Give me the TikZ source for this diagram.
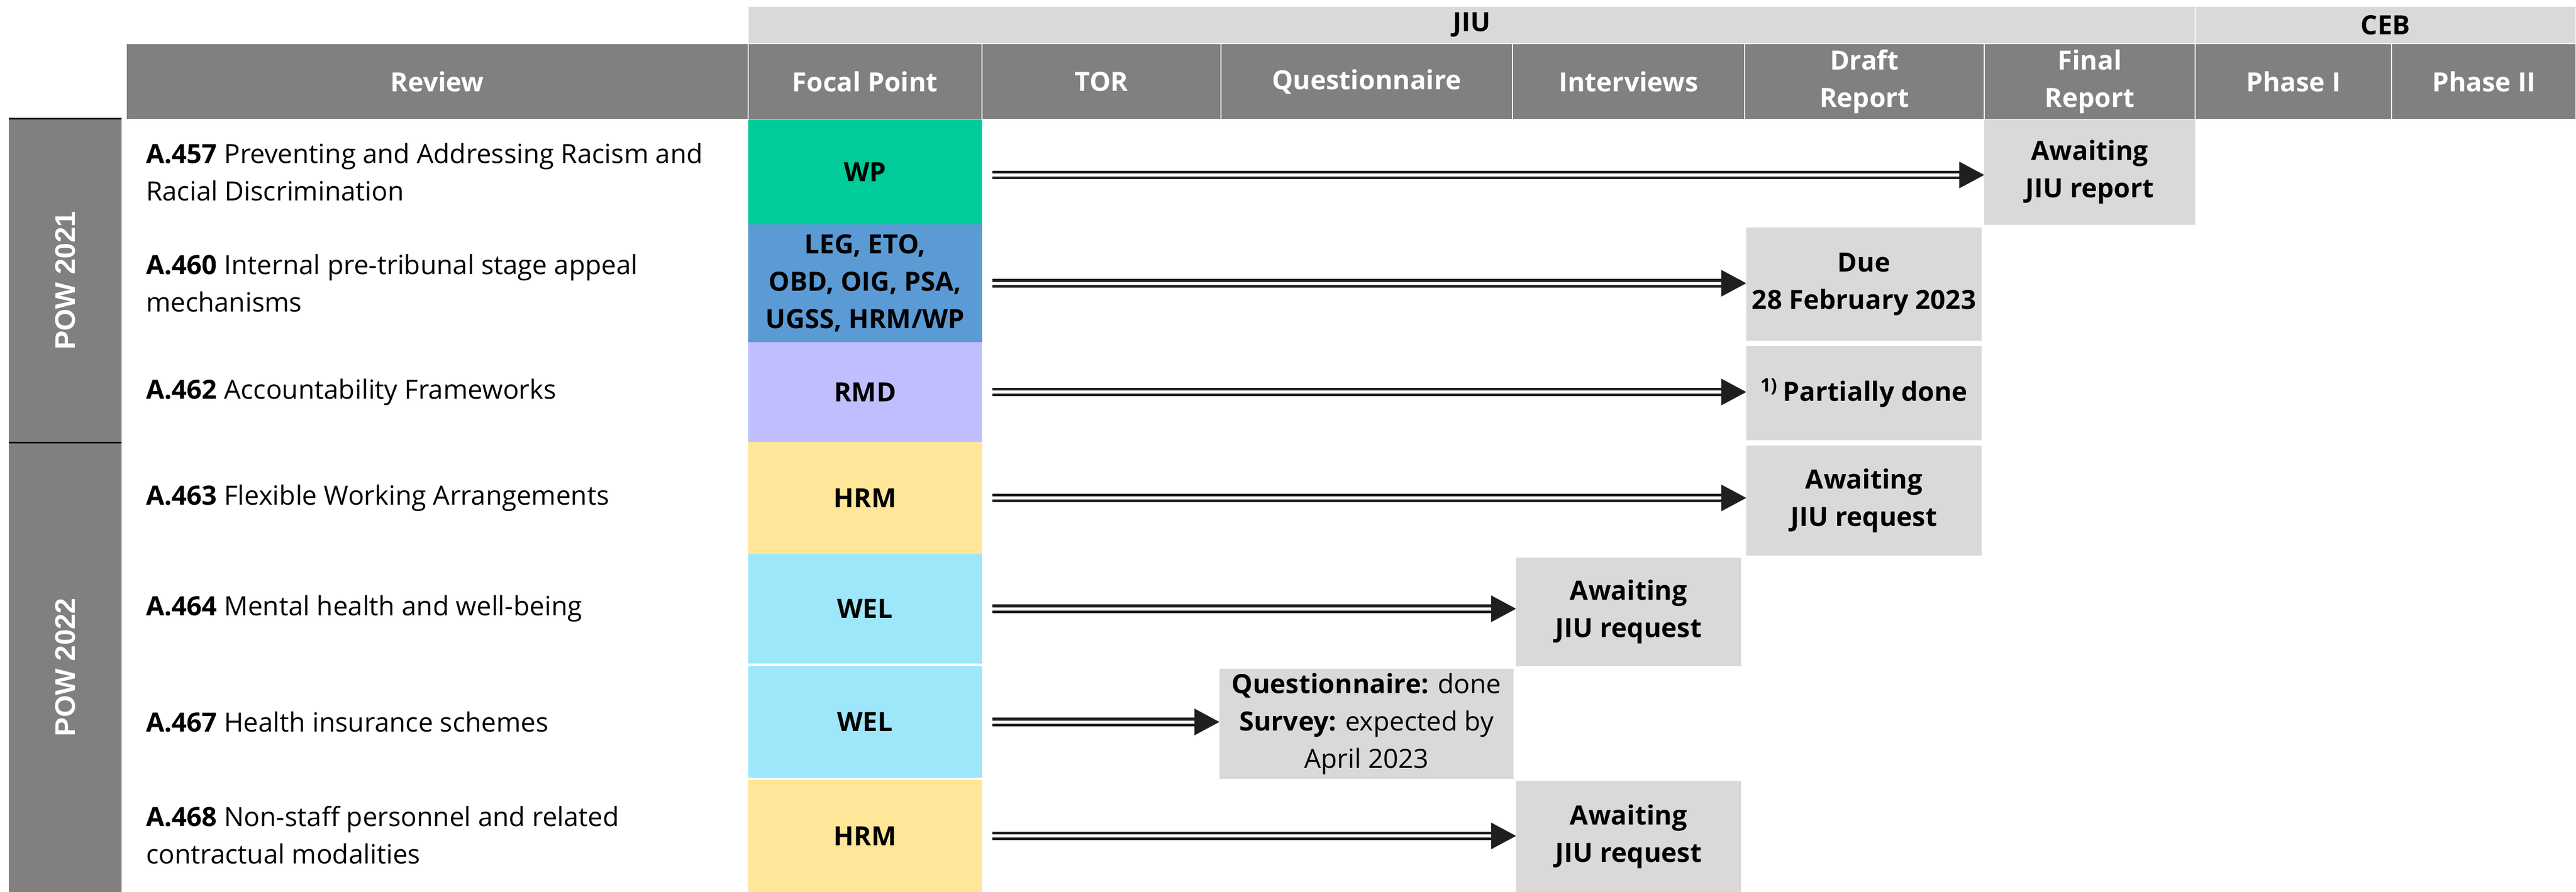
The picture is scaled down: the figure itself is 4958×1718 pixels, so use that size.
\documentclass[tikz,border=0pt]{standalone}
\usepackage{fontspec}
\setmainfont{Open Sans}
\newfontfamily\powfont{Liberation Sans}
\usetikzlibrary{arrows.meta}
\definecolor{hdr}{HTML}{808080}
\definecolor{band}{HTML}{D9D9D9}
\definecolor{cgreen}{HTML}{00CC99}
\definecolor{cblue}{HTML}{5B9BD5}
\definecolor{cpurple}{HTML}{BFBFFF}
\definecolor{cyellow}{HTML}{FFE699}
\definecolor{ccyan}{HTML}{9EE6FA}
\definecolor{statgray}{HTML}{D9D9D9}
\newcommand\fs{\fontsize{10.2pt}{14.4pt}\selectfont}
\newcommand\mkcell[7]{\node[#6,minimum width={(#4-#2)*0.2pt},minimum height={(#5-#3)*0.2pt}] (#1) at ({(#2+#4)/2},{(#3+#5)/2}) {#7};}
\begin{document}
\begin{tikzpicture}[x=0.2pt,y=-0.2pt,
  every node/.style={inner sep=0pt,outer sep=0pt},
  hdrcell/.style={fill=hdr,draw=white,line width=0.4pt,text=white,font=\fs\bfseries,align=center},
  bandcell/.style={fill=band,draw=white,line width=0.4pt,font=\fs\bfseries,align=center},
  powcell/.style={fill=hdr},
  powtext/.style={text=white,rotate=90,font=\powfont\fontsize{10.9pt}{13pt}\selectfont\bfseries},
  focal/.style={font=\fs\bfseries,align=center},
  stat/.style={fill=statgray,font=\fs\bfseries,align=center},
  review/.style={anchor=west,align=left,font=\fs},
  flow/.style={draw=black!88,line width=1.05pt,double=white,double distance=1.2pt,
    -{Triangle[length=9.6pt,width=10pt]},shorten <=4pt},
  sepline/.style={line width=0.6pt,draw=black}]
\useasboundingbox (0,0) rectangle (4958,1718);
% top band
\mkcell{jiu}{1440}{12}{4225}{84}{bandcell}{JIU}
\mkcell{ceb}{4225}{12}{4958}{84}{bandcell}{CEB}
% header row
\mkcell{hReview}{243}{84}{1440}{230}{hdrcell}{Review}
\mkcell{hFocal}{1440}{84}{1890}{230}{hdrcell}{Focal Point}
\mkcell{hTOR}{1890}{84}{2350}{230}{hdrcell}{TOR}
\mkcell{hQuest}{2350}{84}{2911}{230}{hdrcell}{Questionnaire}
\mkcell{hInt}{2911}{84}{3358}{230}{hdrcell}{Interviews}
\mkcell{hDraft}{3358}{84}{3819}{230}{hdrcell}{Draft\\Report}
\mkcell{hFinal}{3819}{84}{4225}{230}{hdrcell}{Final\\Report}
\mkcell{hPh1}{4225}{84}{4603}{230}{hdrcell}{Phase I}
\mkcell{hPh2}{4603}{84}{4958}{230}{hdrcell}{Phase II}
% POW bars
\mkcell{pow21}{17}{229}{234}{852}{powcell}{}
\mkcell{pow22}{17}{852}{234}{1718}{powcell}{}
\draw[sepline] (pow21.north west) -- (pow21.north east);
\draw[sepline] (pow22.north west) -- (pow22.north east);
\node[powtext] (pow21t) at (pow21) {POW 2021};
\node[powtext] (pow22t) at (pow22) {POW 2022};
% review texts
\node[review] (r1) at (281,331) {\textbf{A.457} Preventing and Addressing Racism and\\Racial Discrimination};
\node[review] (r2) at (281,545) {\textbf{A.460} Internal pre-tribunal stage appeal\\mechanisms};
\node[review] (r3) at (281,755) {\textbf{A.462} Accountability Frameworks};
\node[review] (r4) at (281,959) {\textbf{A.463} Flexible Working Arrangements};
\node[review] (r5) at (281,1172) {\textbf{A.464} Mental health and well-being};
\node[review] (r6) at (281,1390) {\textbf{A.467} Health insurance schemes};
\node[review] (r7) at (281,1608) {\textbf{A.468} Non-staff personnel and related\\contractual modalities};
% focal points
\mkcell{f1}{1440}{230}{1890}{432}{focal,fill=cgreen}{WP}
\mkcell{f2}{1440}{432}{1890}{659}{focal,fill=cblue}{LEG, ETO,\\OBD, OIG, PSA,\\UGSS, HRM/WP}
\mkcell{f3}{1440}{659}{1890}{851}{focal,fill=cpurple}{RMD}
\mkcell{f4}{1440}{851}{1890}{1067}{focal,fill=cyellow}{HRM}
\mkcell{f5}{1440}{1067}{1890}{1278}{focal,fill=ccyan}{WEL}
\mkcell{f6}{1440}{1283}{1890}{1498}{focal,fill=ccyan}{WEL}
\mkcell{f7}{1440}{1502}{1890}{1718}{focal,fill=cyellow}{HRM}
% status boxes
\mkcell{s1}{3819}{230}{4225}{433}{stat}{Awaiting\\JIU report}
\mkcell{s2}{3361}{438}{3814}{656}{stat}{Due\\28 February 2023}
\mkcell{s3}{3361}{666}{3814}{848}{stat}{\textsuperscript{1)}\,Partially done}
\mkcell{s4}{3361}{858}{3814}{1070}{stat}{Awaiting\\JIU request}
\mkcell{s5}{2918}{1074}{3351}{1283}{stat}{Awaiting\\JIU request}
\mkcell{s6}{2347}{1288}{2913}{1500}{stat}{Questionnaire: \mdseries done\\Survey: \mdseries expected by\\\mdseries April 2023}
\mkcell{s7}{2918}{1504}{3351}{1718}{stat}{Awaiting\\JIU request}
% arrows
\draw[flow] ([yshift=-1.2pt]f1.east) -- ([yshift=-1.2pt]f1.east -| s1.west);
\draw[flow] (f2.east) -- (f2.east -| s2.west);
\draw[flow] (f3.east) -- (f3.east -| s3.west);
\draw[flow] (f4.east) -- (f4.east -| s4.west);
\draw[flow] (f5.east) -- (f5.east -| s5.west);
\draw[flow] (f6.east) -- (f6.east -| s6.west);
\draw[flow] (f7.east) -- (f7.east -| s7.west);
\end{tikzpicture}
\end{document}
